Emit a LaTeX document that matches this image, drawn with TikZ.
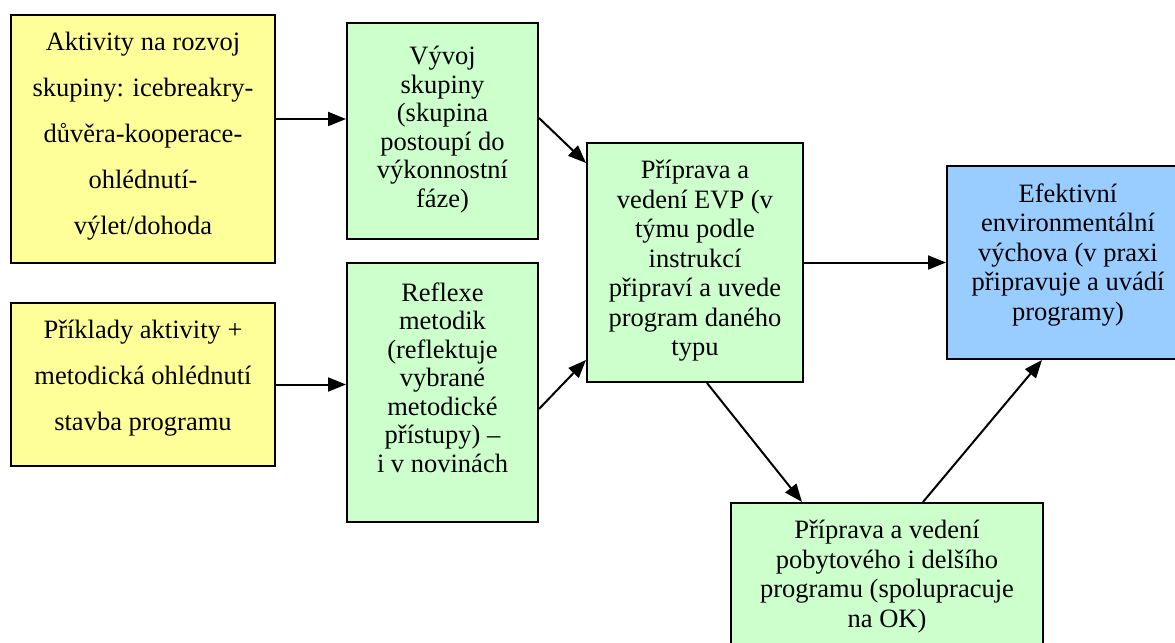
\documentclass[tikz,border=0pt]{standalone}
\usepackage{fontspec}
\setmainfont{Liberation Serif}
\usetikzlibrary{arrows.meta}
\definecolor{boxyellow}{RGB}{255,255,153}
\definecolor{boxgreen}{RGB}{204,255,204}
\definecolor{boxblue}{RGB}{153,204,255}
\begin{document}
\begin{tikzpicture}[
        x = .5pt, y = -.5pt,
        box/.style = {draw, line width = 1pt, inner sep = 0pt},
        ybox/.style = {box, fill = boxyellow, minimum width = 132pt},
        gbox/.style = {box, fill = boxgreen},
        bbox/.style = {box, fill = boxblue},
        txt/.style = {anchor = north, align = center, inner sep = 0pt, yshift = -9pt,
            font = \fontsize{13.25}{14.75}\selectfont,
            execute at begin node = \rule{0pt}{13pt}},
        wide/.style = {font = \fontsize{13.25}{23}\selectfont},
        arr/.style = {-{Triangle[length = 9pt, width = 7pt]}, line width = 1pt}
    ]
        \useasboundingbox (0,0) rectangle (1175,643);
        % left column
        \node[ybox, minimum height = 124pt] (akt) at (143,139) {};
        \node[txt, wide] (akt-t) at (akt.north) {Aktivity na rozvoj\\skupiny: icebreakry-\\důvěra-kooperace-\\ohlédnutí-\\výlet/dohoda};
        \node[ybox, minimum height = 81.5pt] (prik) at (143,384.5) {};
        \node[txt, wide] (prik-t) at (prik.north) {Příklady aktivity +\\metodická ohlédnutí\\stavba programu};
        % middle column
        \node[gbox, minimum width = 95.5pt, minimum height = 108pt] (vyvoj) at (442.5,131) {};
        \node[txt, yshift = -3pt, font = \fontsize{13.25}{14.25}\selectfont] (vyvoj-t) at (vyvoj.north) {Vývoj\\skupiny\\(skupina\\postoupí do\\výkonnostní\\fáze)};
        \node[gbox, minimum width = 95.5pt, minimum height = 129.5pt] (refl) at (442.5,392.5) {};
        \node[txt, yshift = -1pt, font = \fontsize{13.25}{14.25}\selectfont] (refl-t) at (refl.north) {Reflexe\\metodik\\(reflektuje\\vybrané\\metodické\\přístupy) –\\i v novinách};
        % right part
        \node[gbox, minimum width = 108pt, minimum height = 119.5pt] (evp) at (695,262.5) {};
        \node[txt] (evp-t) at (evp.north) {Příprava a\\vedení EVP (v\\týmu podle\\instrukcí\\připraví a uvede\\program daného\\typu};
        \node[bbox, minimum width = 121pt, minimum height = 96.5pt] (efekt) at (1068,262.5) {};
        \node[txt] (efekt-t) at (efekt.north) {Efektivní\\environmentální\\výchova (v praxi\\připravuje a uvádí\\programy)};
        \node[gbox, minimum width = 156pt, minimum height = 72pt] (pobyt) at (887,575) {};
        \node[txt] (pobyt-t) at (pobyt.north) {Příprava a vedení\\pobytového i delšího\\programu (spolupracuje\\na OK)};
        % arrows
        \draw[arr] (akt.east |- 0,119) -- (vyvoj.west |- 0,119);
        \draw[arr] (prik.east) -- (prik.east -| refl.west);
        \draw[arr] (vyvoj.east |- 0,118) -- (evp.west |- 0,163);
        \draw[arr] (refl.east |- 0,409) -- (evp.west |- 0,360);
        \draw[arr] (evp.east) -- (evp.east -| efekt.west);
        \draw[arr] (evp.south -| 707,0) -- (pobyt.north -| 802,0);
        \draw[arr] (pobyt.north -| 923,0) -- (efekt.south -| 1042,0);
    \end{tikzpicture}
\end{document}
